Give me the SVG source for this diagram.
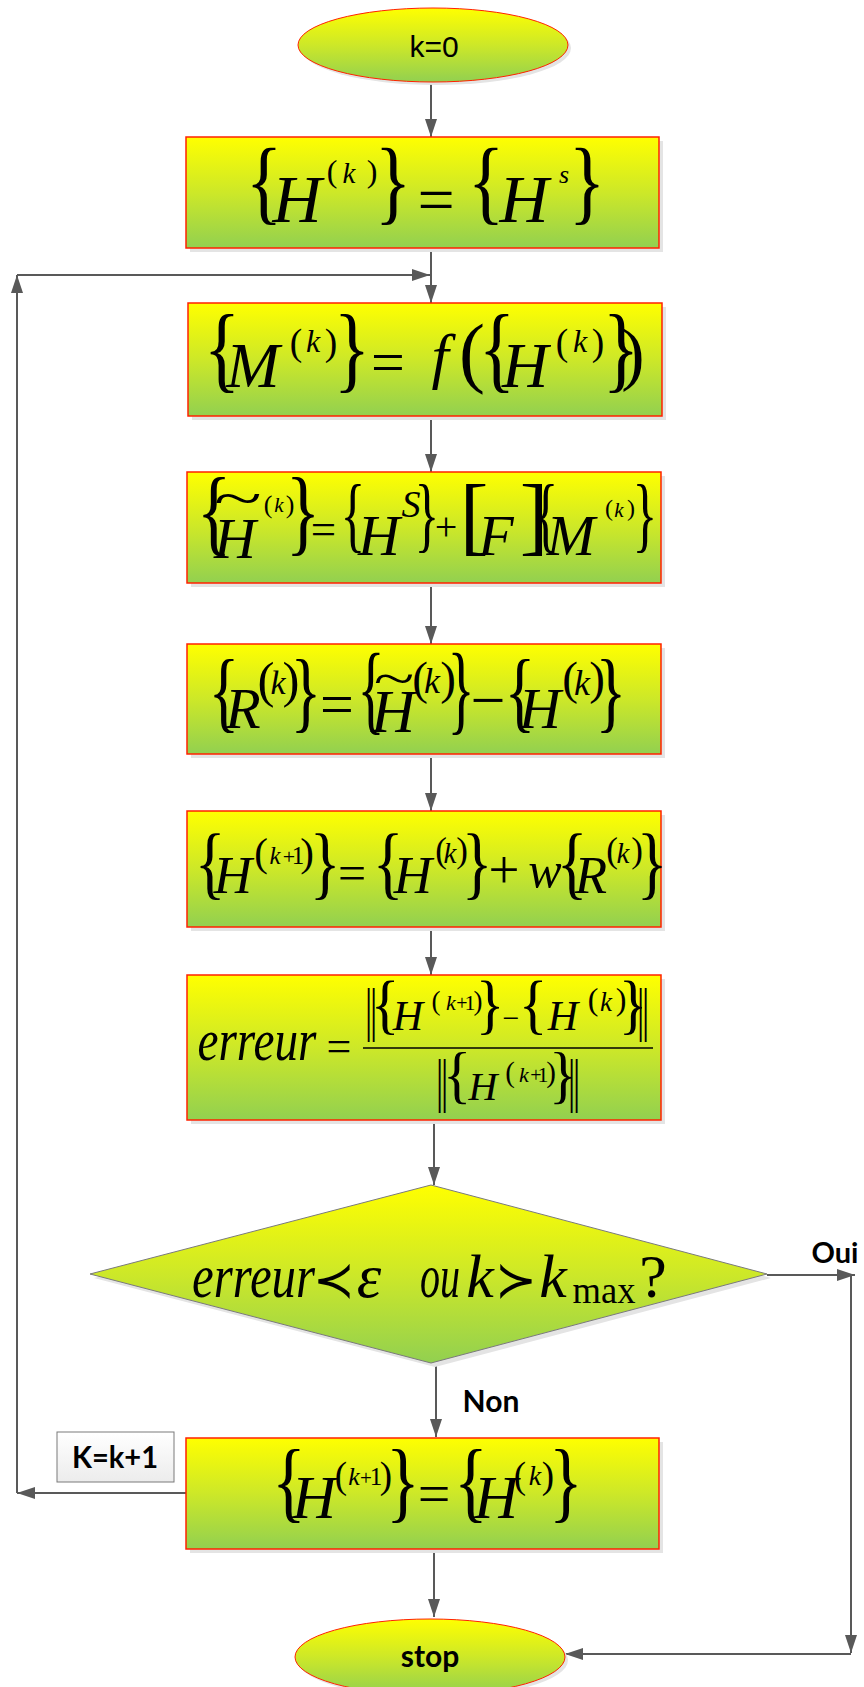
<svg xmlns="http://www.w3.org/2000/svg" width="864" height="1687" viewBox="0 0 864 1687">
<defs>
<linearGradient id="g" x1="0" y1="0" x2="0" y2="1">
<stop offset="0" stop-color="#ffff00"/>
<stop offset="0.5" stop-color="#cde828"/>
<stop offset="1" stop-color="#92d050"/>
</linearGradient>
<linearGradient id="gw" x1="0" y1="0" x2="0" y2="1">
<stop offset="0" stop-color="#ffffff"/>
<stop offset="1" stop-color="#ececec"/>
</linearGradient>
<marker id="a" markerUnits="userSpaceOnUse" markerWidth="18" markerHeight="12" refX="18" refY="6" orient="auto" overflow="visible">
<path d="M0,0 L18,6 L0,12 z" fill="#595959"/>
</marker>
<style>
.box{fill:url(#g);stroke:#ff2200;stroke-width:1.5}
.sh{fill:#e4e4e4}
.c{stroke:#595959;stroke-width:2;fill:none;marker-end:url(#a)}
.mi{font-family:"Liberation Serif","Times New Roman",serif;font-style:italic;text-anchor:middle;fill:#000}
.mr{font-family:"Liberation Serif","Times New Roman",serif;text-anchor:middle;fill:#000}
.sym{font-family:"DejaVu Serif","DejaVu Sans",serif;text-anchor:middle;fill:#000}
.lbl{font-family:Lato,"Liberation Sans",sans-serif;font-weight:bold;text-anchor:middle;fill:#000}
</style>
</defs>
<rect width="864" height="1687" fill="#ffffff"/>

<g id="connectors">
<line class="c" x1="431" y1="82" x2="431" y2="137"/>
<line class="c" x1="431" y1="248" x2="431" y2="303"/>
<line class="c" x1="186" y1="1493" x2="17" y2="1493"/>
<line class="c" x1="17" y1="1493" x2="17" y2="275"/>
<line class="c" x1="17" y1="275" x2="430" y2="275"/>
<line class="c" x1="431" y1="416" x2="431" y2="472"/>
<line class="c" x1="431" y1="583" x2="431" y2="644"/>
<line class="c" x1="431" y1="754" x2="431" y2="811"/>
<line class="c" x1="431" y1="927" x2="431" y2="975"/>
<line class="c" x1="434" y1="1120" x2="434" y2="1185"/>
<line class="c" x1="767" y1="1275" x2="855" y2="1275"/>
<line class="c" x1="851" y1="1275" x2="851" y2="1653"/>
<line class="c" x1="851" y1="1654" x2="565" y2="1654"/>
<line class="c" x1="436" y1="1366" x2="436" y2="1437"/>
<line class="c" x1="434" y1="1552" x2="434" y2="1617"/>
</g>

<g id="start">
<ellipse cx="436" cy="48" rx="135" ry="37" class="sh"/>
<ellipse cx="433" cy="45" rx="135" ry="37" fill="url(#g)" stroke="#ff2200" stroke-width="1"/>
<text x="434" y="57" font-family="Liberation Sans, Arial, sans-serif" font-size="30" text-anchor="middle">k=0</text>
</g>

<g id="init">
<rect x="190" y="141" width="473" height="111" class="sh"/>
<rect x="186" y="137" width="473" height="111" class="box"/>
<text class="mr" font-size="93" transform="translate(264,213) scale(0.82,1)">{</text>
<text class="mi" x="297" y="222" font-size="68">H</text>
<text class="mr" x="332" y="182" font-size="32">(</text>
<text class="mi" x="349" y="183" font-size="29">k</text>
<text class="mr" x="372" y="182" font-size="32">)</text>
<text class="mr" font-size="93" transform="translate(393,213) scale(0.82,1)">}</text>
<text class="mr" x="436" y="222" font-size="66">=</text>
<text class="mr" font-size="93" transform="translate(486,213) scale(0.82,1)">{</text>
<text class="mi" x="524" y="222" font-size="68">H</text>
<text class="mi" x="564" y="183" font-size="26">s</text>
<text class="mr" font-size="93" transform="translate(587,213) scale(0.82,1)">}</text>
</g>

<g id="magnet">
<rect x="192" y="307" width="474" height="113" class="sh"/>
<rect x="188" y="303" width="474" height="113" class="box"/>
<text class="mr" font-size="96" transform="translate(222,380) scale(0.79,1)">{</text>
<text class="mi" x="253" y="387" font-size="64">M</text>
<text class="mr" x="296" y="355" font-size="37.5">(</text>
<text class="mi" x="313" y="352" font-size="32">k</text>
<text class="mr" x="331" y="355" font-size="37.5">)</text>
<text class="mr" font-size="96" transform="translate(352,380) scale(0.79,1)">}</text>
<text class="mr" x="388" y="382" font-size="60">=</text>
<text class="mi" x="440" y="377" font-size="62">f</text>
<text class="mr" x="472" y="378" font-size="78">(</text>
<text class="mr" font-size="96" transform="translate(497,380) scale(0.79,1)">{</text>
<text class="mi" x="525" y="387" font-size="64">H</text>
<text class="mr" x="562" y="355" font-size="37.5">(</text>
<text class="mi" x="580" y="352" font-size="32">k</text>
<text class="mr" x="598" y="355" font-size="37.5">)</text>
<text class="mr" font-size="96" transform="translate(621,380) scale(0.79,1)">}</text>
<text class="mr" x="633" y="377" font-size="70">)</text>
</g>

<g id="field">
<rect x="191" y="476" width="474" height="111" class="sh"/>
<rect x="187" y="472" width="474" height="111" class="box"/>
<text class="mr" font-size="96" transform="translate(214,543) scale(0.75,1)">{</text>
<text class="mr" font-size="52" transform="translate(238,516) scale(1.7,1)">~</text>
<text class="mi" x="235" y="558" font-size="58">H</text>
<text class="mr" x="268" y="513" font-size="26">(</text>
<text class="mi" x="279" y="512" font-size="21">k</text>
<text class="mr" x="290" y="513" font-size="26">)</text>
<text class="mr" font-size="96" transform="translate(303,543) scale(0.75,1)">}</text>
<text class="mr" x="323.5" y="544" font-size="45">=</text>
<text class="mr" font-size="82" transform="translate(353,542) scale(0.63,1)">{</text>
<text class="mi" x="379" y="555" font-size="58">H</text>
<text class="mi" x="411" y="517" font-size="38">S</text>
<text class="mr" font-size="82" transform="translate(427,542) scale(0.63,1)">}</text>
<text class="mr" x="446" y="540" font-size="40">+</text>
<text class="mr" x="474" y="544" font-size="86">[</text>
<text class="mi" x="496" y="555" font-size="58">F</text>
<text class="mr" x="534" y="544" font-size="86">]</text>
<text class="mr" font-size="82" transform="translate(546,542) scale(0.63,1)">{</text>
<text class="mi" x="571" y="555" font-size="58">M</text>
<text class="mr" x="609" y="516" font-size="24">(</text>
<text class="mi" x="619" y="517" font-size="21">k</text>
<text class="mr" x="631" y="516" font-size="24">)</text>
<text class="mr" font-size="82" transform="translate(645,542) scale(0.63,1)">}</text>
</g>

<g id="residual">
<rect x="191" y="648" width="474" height="110" class="sh"/>
<rect x="187" y="644" width="474" height="110" class="box"/>
<text class="mr" font-size="88" transform="translate(224,721) scale(0.73,1)">{</text>
<text class="mi" x="243" y="728" font-size="58">R</text>
<text class="mr" x="266" y="697" font-size="51">(</text>
<text class="mi" x="278" y="694" font-size="34">k</text>
<text class="mr" x="291" y="697" font-size="51">)</text>
<text class="mr" font-size="88" transform="translate(306,721) scale(0.73,1)">}</text>
<text class="mr" x="337" y="724" font-size="60">=</text>
<text class="mr" font-size="99" transform="translate(371,722) scale(0.57,1)">{</text>
<text class="mr" font-size="50" transform="translate(394,695) scale(1.5,1)">~</text>
<text class="mi" x="393" y="732" font-size="61">H</text>
<text class="mr" x="420" y="694" font-size="47">(</text>
<text class="mi" x="432" y="693" font-size="36">k</text>
<text class="mr" x="448" y="694" font-size="47">)</text>
<text class="mr" font-size="99" transform="translate(461,722) scale(0.57,1)">}</text>
<text class="mr" x="488" y="721" font-size="62">−</text>
<text class="mr" font-size="88" transform="translate(520,721) scale(0.73,1)">{</text>
<text class="mi" x="540" y="728" font-size="58">H</text>
<text class="mr" x="570" y="694" font-size="47">(</text>
<text class="mi" x="582" y="695" font-size="36">k</text>
<text class="mr" x="597" y="694" font-size="47">)</text>
<text class="mr" font-size="88" transform="translate(611,721) scale(0.73,1)">}</text>
</g>

<g id="update">
<rect x="191" y="815" width="474" height="116" class="sh"/>
<rect x="187" y="811" width="474" height="116" class="box"/>
<text class="mr" font-size="80" transform="translate(210,889) scale(0.8,1)">{</text>
<text class="mi" x="233" y="893" font-size="53">H</text>
<text class="mr" x="261" y="866" font-size="41">(</text>
<text class="mi" x="275" y="864" font-size="25">k</text>
<text class="mr" x="289" y="864" font-size="22">+</text>
<text class="mr" x="298" y="864" font-size="25">1</text>
<text class="mr" x="307" y="866" font-size="41">)</text>
<text class="mr" font-size="80" transform="translate(325,889) scale(0.8,1)">}</text>
<text class="mr" x="352" y="890" font-size="50">=</text>
<text class="mr" font-size="80" transform="translate(388,889) scale(0.8,1)">{</text>
<text class="mi" x="413" y="893" font-size="53">H</text>
<text class="mr" x="441" y="862" font-size="35">(</text>
<text class="mi" x="450" y="863" font-size="29">k</text>
<text class="mr" x="462" y="862" font-size="35">)</text>
<text class="mr" font-size="80" transform="translate(477,889) scale(0.8,1)">}</text>
<text class="mr" x="504" y="888" font-size="55">+</text>
<text class="mi" x="545" y="887" font-size="50">w</text>
<text class="mr" font-size="80" transform="translate(572,889) scale(0.8,1)">{</text>
<text class="mi" x="591" y="893" font-size="53">R</text>
<text class="mr" x="612" y="862" font-size="35">(</text>
<text class="mi" x="623" y="863" font-size="29">k</text>
<text class="mr" x="637" y="862" font-size="35">)</text>
<text class="mr" font-size="80" transform="translate(652,889) scale(0.8,1)">}</text>
</g>

<g id="error">
<rect x="191" y="979" width="474" height="145" class="sh"/>
<rect x="187" y="975" width="474" height="145" class="box"/>
<text class="mi" x="257" y="1060" font-size="60" textLength="119" lengthAdjust="spacingAndGlyphs">erreur</text>
<text class="mr" x="339" y="1061" font-size="44">=</text>
<line x1="363" y1="1048" x2="653" y2="1048" stroke="#000" stroke-width="1.5"/>
<text class="mr" font-size="60" transform="translate(368.5,1029) scale(0.6,1)">|</text>
<text class="mr" font-size="60" transform="translate(373.5,1029) scale(0.6,1)">|</text>
<text class="mr" font-size="65" transform="translate(385,1026) scale(0.92,1)">{</text>
<text class="mi" x="408" y="1030" font-size="42">H</text>
<text class="mr" x="436" y="1010" font-size="27">(</text>
<text class="mi" x="451" y="1010" font-size="22">k</text>
<text class="mr" x="462" y="1010" font-size="20">+</text>
<text class="mr" x="470" y="1010" font-size="22">1</text>
<text class="mr" x="478" y="1010" font-size="27">)</text>
<text class="mr" font-size="65" transform="translate(490,1026) scale(0.92,1)">}</text>
<text class="mr" x="511" y="1028" font-size="30">−</text>
<text class="mr" font-size="65" transform="translate(533,1026) scale(0.92,1)">{</text>
<text class="mi" x="563" y="1030" font-size="42">H</text>
<text class="mr" x="593" y="1010" font-size="32">(</text>
<text class="mi" x="606" y="1011" font-size="27">k</text>
<text class="mr" x="621" y="1010" font-size="32">)</text>
<text class="mr" font-size="65" transform="translate(633,1026) scale(0.92,1)">}</text>
<text class="mr" font-size="60" transform="translate(640.5,1029) scale(0.6,1)">|</text>
<text class="mr" font-size="60" transform="translate(645.5,1029) scale(0.6,1)">|</text>
<text class="mr" font-size="60" transform="translate(439.5,1100) scale(0.6,1)">|</text>
<text class="mr" font-size="60" transform="translate(444.5,1100) scale(0.6,1)">|</text>
<text class="mr" font-size="64" transform="translate(457,1096) scale(0.92,1)">{</text>
<text class="mi" x="483" y="1100" font-size="40">H</text>
<text class="mr" x="510" y="1082" font-size="29">(</text>
<text class="mi" x="524" y="1082" font-size="22">k</text>
<text class="mr" x="536" y="1082" font-size="20">+</text>
<text class="mr" x="543" y="1082" font-size="22">1</text>
<text class="mr" x="551" y="1082" font-size="29">)</text>
<text class="mr" font-size="64" transform="translate(563,1096) scale(0.92,1)">}</text>
<text class="mr" font-size="60" transform="translate(571.5,1100) scale(0.6,1)">|</text>
<text class="mr" font-size="60" transform="translate(576.5,1100) scale(0.6,1)">|</text>
</g>

<g id="test">
<polygon points="94,1278 435,1189 771,1278 435,1367" class="sh"/>
<polygon points="90,1274 431,1185 767,1274 431,1363" fill="url(#g)" stroke="#7a7a7a" stroke-width="1"/>
<text class="mi" x="253.5" y="1297" font-size="62" textLength="123" lengthAdjust="spacingAndGlyphs">erreur</text>
<text class="sym" x="334" y="1297" font-size="50">≺</text>
<text class="mi" x="369" y="1297" font-size="62">ε</text>
<text class="mi" x="440" y="1297" font-size="62" textLength="40" lengthAdjust="spacingAndGlyphs">ou</text>
<text class="mi" x="480" y="1297" font-size="62">k</text>
<text class="sym" x="516" y="1297" font-size="50">≻</text>
<text class="mi" x="553" y="1297" font-size="62">k</text>
<text class="mr" x="604" y="1303" font-size="37" textLength="63" lengthAdjust="spacingAndGlyphs">max</text>
<text class="mr" x="653" y="1297" font-size="62">?</text>
</g>

<g id="label-oui"><text class="lbl" x="835" y="1263" font-size="29">Oui</text></g>
<g id="label-non"><text class="lbl" x="491" y="1412" font-size="30">Non</text></g>

<g id="increment">
<rect x="57" y="1432" width="117" height="50" fill="url(#gw)" stroke="#7a7a7a" stroke-width="1"/>
<text class="lbl" x="115" y="1468" font-size="31" textLength="86" lengthAdjust="spacingAndGlyphs">K=k+1</text>
</g>

<g id="assign">
<rect x="190" y="1442" width="473" height="111" class="sh"/>
<rect x="186" y="1438" width="473" height="111" class="box"/>
<text class="mr" font-size="88" transform="translate(289,1511) scale(0.8,1)">{</text>
<text class="mi" x="314" y="1518" font-size="61">H</text>
<text class="mr" x="341" y="1488" font-size="37">(</text>
<text class="mi" x="354" y="1485" font-size="26">k</text>
<text class="mr" x="366" y="1485" font-size="21">+</text>
<text class="mr" x="376" y="1485" font-size="25">1</text>
<text class="mr" x="386" y="1488" font-size="37">)</text>
<text class="mr" font-size="88" transform="translate(403,1511) scale(0.8,1)">}</text>
<text class="mr" x="434" y="1513" font-size="58">=</text>
<text class="mr" font-size="88" transform="translate(471,1511) scale(0.8,1)">{</text>
<text class="mi" x="496" y="1518" font-size="61">H</text>
<text class="mr" x="520" y="1488" font-size="37">(</text>
<text class="mi" x="535" y="1485" font-size="28">k</text>
<text class="mr" x="548" y="1488" font-size="37">)</text>
<text class="mr" font-size="88" transform="translate(566,1511) scale(0.8,1)">}</text>
</g>

<g id="stop">
<ellipse cx="433" cy="1660" rx="135" ry="38" class="sh"/>
<ellipse cx="430" cy="1657" rx="135" ry="38" fill="url(#g)" stroke="#ff2200" stroke-width="1"/>
<text class="lbl" x="430" y="1667" font-size="30">stop</text>
</g>
</svg>
